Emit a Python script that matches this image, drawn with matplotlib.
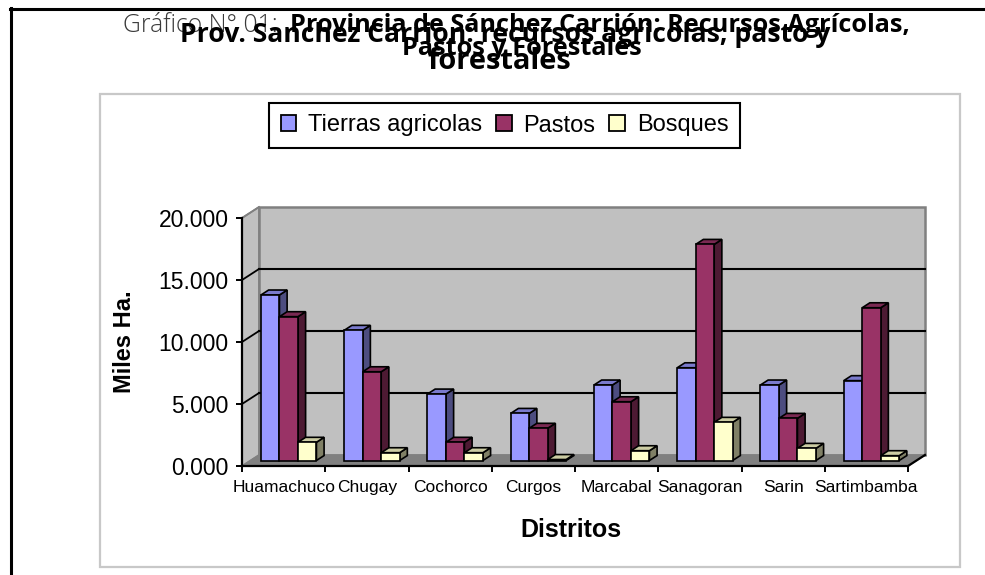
import matplotlib
matplotlib.use("Agg")
import matplotlib.pyplot as plt
from matplotlib.patches import Polygon, Rectangle, Patch
from matplotlib.lines import Line2D
import matplotlib.colors as mcolors

# ---------------- data (thousands of ha) ----------------
districts = ["Huamachuco", "Chugay", "Cochorco", "Curgos", "Marcabal",
             "Sanagoran", "Sarin", "Sartimbamba"]
tierras = [13.35, 10.5, 5.36, 3.8, 6.09, 7.48, 6.09, 6.44]
pastos = [11.6, 7.16, 1.47, 2.6, 4.74, 17.43, 3.4, 12.32]
bosques = [1.47, 0.63, 0.63, 0.08, 0.79, 3.08, 0.98, 0.39]
series_names = ["Tierras agricolas", "Pastos", "Bosques"]
yticks = [0, 5, 10, 15, 20]

series = [tierras, pastos, bosques]
colors = ["#9999FF", "#993366", "#FFFFCC"]

W, H = 985, 575
plt.rcParams['font.family'] = ['Liberation Sans', 'DejaVu Sans']
fig = plt.figure(figsize=(W / 100, H / 100), dpi=100)
renderer = fig.canvas.get_renderer()

def fx(px):
    return px / W

def fy(py):
    return 1 - py / H

# outer black frame (only top and left visible)
fig.add_artist(Line2D([fx(11), fx(11)], [fy(8), fy(580)], color='black', lw=2.2))
fig.add_artist(Line2D([fx(9.5), fx(990)], [fy(8.5), fy(8.5)], color='black', lw=2.2))
# inner chart area border
fig.add_artist(Rectangle((fx(100), fy(567)), fx(960) - fx(100), fy(94) - fy(567),
                         transform=fig.transFigure, fill=False,
                         edgecolor='#C8C8C8', lw=1.6))

# ---------------- main axes ----------------
x_left, x_right, y_top, y_bot = 242, 908, 218, 466
ax = fig.add_axes([fx(x_left), fy(y_bot), fx(x_right) - fx(x_left), fy(y_top) - fy(y_bot)])
ncat = len(districts)
ax.set_xlim(0, ncat)
ax.set_ylim(0, 20)
ax.patch.set_visible(False)
for s in ['top', 'right']:
    ax.spines[s].set_visible(False)
ax.spines['left'].set_linewidth(1.6)
ax.spines['bottom'].set_linewidth(1.6)
ax.spines['left'].set_zorder(10)
ax.spines['bottom'].set_zorder(10)

px_per_cat = (x_right - x_left) / ncat
px_per_unit = (y_bot - y_top) / 20.0
DX = 17 / px_per_cat
DY = 11 / px_per_unit

# walls
left_wall = Polygon([(0, 0), (DX, DY), (DX, 20 + DY), (0, 20)], closed=True,
                    facecolor='#C0C0C0', edgecolor='#808080', lw=1.2, zorder=0.5, clip_on=False)
back_wall = Polygon([(DX, DY), (ncat + DX, DY), (ncat + DX, 20 + DY), (DX, 20 + DY)], closed=True,
                    facecolor='#C0C0C0', edgecolor='#808080', lw=1.8, zorder=0.6, clip_on=False)
floor = Polygon([(0, 0), (ncat, 0), (ncat + DX, DY), (DX, DY)], closed=True,
                facecolor='#808080', edgecolor='#808080', lw=1.0, zorder=0.7, clip_on=False)
for p in (left_wall, back_wall, floor):
    ax.add_patch(p)

# gridlines on back wall and side wall
for yv in yticks[1:-1]:
    ax.plot([DX, ncat + DX], [yv + DY, yv + DY], color='black', lw=1.5, zorder=0.9, clip_on=False)
for yv in yticks[1:]:
    ax.plot([0, DX], [yv, yv + DY], color='black' if yv < 20 else '#808080',
            lw=1.3, zorder=0.9, clip_on=False)
# floor right edge
ax.plot([ncat, ncat + DX], [0, DY], color='black', lw=1.6, zorder=10, clip_on=False)

# bars (pseudo 3D)
bw = 0.222
base_off = 0.126
f0 = 0.5
fd = 0.45

def shade(c, k):
    r, g, b = mcolors.to_rgb(c)
    return (r * k, g * k, b * k)

z = 2.0
for c in range(ncat):
    for s_i, vals in enumerate(series):
        v = vals[c]
        x0 = c + base_off + s_i * bw + f0 * DX
        y0 = f0 * DY
        ddx, ddy = fd * DX, fd * DY
        side = Polygon([(x0 + bw, y0), (x0 + bw + ddx, y0 + ddy),
                        (x0 + bw + ddx, y0 + v + ddy), (x0 + bw, y0 + v)], closed=True,
                       facecolor=shade(colors[s_i], 0.5), edgecolor='black', lw=1.2,
                       zorder=z, clip_on=False)
        top = Polygon([(x0, y0 + v), (x0 + bw, y0 + v), (x0 + bw + ddx, y0 + v + ddy),
                       (x0 + ddx, y0 + v + ddy)], closed=True,
                      facecolor=shade(colors[s_i], 0.8), edgecolor='black', lw=1.2,
                      zorder=z, clip_on=False)
        ax.add_patch(side)
        ax.add_patch(top)
        ax.bar(x0, v, width=bw, bottom=y0, align='edge', color=colors[s_i],
               edgecolor='black', linewidth=1.2, zorder=z, clip_on=False)
        z += 0.01

# ticks
ax.set_yticks(yticks)
ax.set_yticklabels(["%.3f" % t for t in yticks])
ax.tick_params(axis='y', direction='out', length=4.5, width=1.4, labelsize=16.5, pad=5, colors='black')
ax.set_xticks(range(ncat + 1))
ax.set_xticklabels([])
ax.set_xticks([i + 0.5 for i in range(ncat)], minor=True)
ax.set_xticklabels(districts, minor=True, fontsize=12.5)
ax.tick_params(axis='x', which='major', direction='out', length=4, width=1.4)
ax.tick_params(axis='x', which='minor', length=0, pad=10)

# axis titles
fig.text(fx(125), fy(342), "Miles Ha.", rotation=90, ha='center', va='center',
         fontsize=17, fontweight='bold')
fig.text(fx(571), fy(530), "Distritos", ha='center', va='center',
         fontsize=18, fontweight='bold')

# legend
handles = [Patch(facecolor=colors[i], edgecolor='black', linewidth=1.3) for i in range(3)]
leg = fig.legend(handles, series_names, ncol=3, loc='center',
                 bbox_to_anchor=(fx(504.5), fy(125.5)), bbox_transform=fig.transFigure,
                 fontsize=17, handlelength=0.65, handleheight=0.65, handletextpad=0.5,
                 columnspacing=0.6, borderpad=0.5, fancybox=False, framealpha=1,
                 edgecolor='black')
leg.get_frame().set_linewidth(1.5)

# titles (two overlapping titles as in the reference)
tf = ['Open Sans', 'DejaVu Sans']

def fit_text(s, x0, x1, ybase, **kw):
    t = fig.text(fx(x0), fy(ybase), s, ha='left', va='baseline', fontsize=14, **kw)
    w = t.get_window_extent(renderer).width
    t.set_fontsize(14 * (x1 - x0) / w)
    return t

fit_text("Gráfico N° 01:", 123, 279, 32, family=tf, fontweight='light', color='#3a3a3a')
fit_text("Provincia de Sánchez Carrión: Recursos Agrícolas,", 290, 913, 32,
         family=tf, fontweight='bold')
fit_text("Pastos y Forestales", 402, 643, 55, family=tf, fontweight='bold')
fit_text("Prov. Sanchez Carrion: recursos agricolas, pasto y", 180, 833, 42,
         family=tf, fontweight='bold')
fit_text("forestales", 427, 572, 69, family=tf, fontweight='bold')

fig.savefig("out.png", dpi=100)
